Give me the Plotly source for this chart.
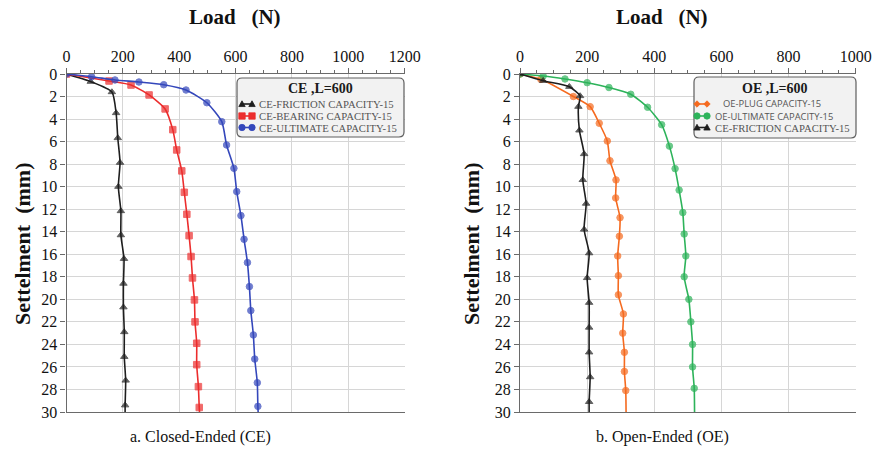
import plotly.graph_objects as go

# ---------- Closed-ended pile (CE), L = 600 ----------
ce_fric_settle = [0, 0.68, 1.6, 3.46, 5.68, 7.87, 10.0, 12.16, 14.3, 16.4, 18.6, 20.7, 22.9, 25.1, 27.2, 29.4, 30]
ce_fric_load = [0, 86, 161, 176, 182, 190, 184, 193, 193, 204, 202, 202, 205, 205, 210, 208, 208]

ce_bear_settle = [0, 0.62, 0.98, 1.86, 3.1, 4.94, 6.74, 8.6, 10.5, 12.45, 14.35, 16.2, 18.1, 20.05, 22.0, 23.9, 25.8, 27.75, 29.6, 30]
ce_bear_load = [0, 151, 229, 293, 350, 377, 391, 409, 418, 427, 435, 442, 447, 454, 456, 462, 462, 468, 471, 472]

ce_ult_settle = [0, 0.24, 0.53, 0.71, 0.95, 1.42, 2.55, 4.23, 6.3, 8.37, 10.44, 12.57, 14.67, 16.74, 18.87, 21.0, 23.16, 25.3, 27.4, 29.5, 30]
ce_ult_load = [0, 89, 172, 257, 345, 424, 498, 551, 568, 594, 604, 619, 630, 642, 649, 654, 663, 668, 677, 679, 680]

# ---------- Open-ended pile (OE), L = 600 ----------
oe_plug_settle = [0, 0.47, 2.0, 2.9, 4.37, 5.95, 7.7, 9.4, 11.0, 12.75, 14.4, 16.15, 17.9, 19.6, 21.3, 23.0, 24.7, 26.4, 28.1, 30]
oe_plug_load = [0, 62, 159, 209, 236, 260, 268, 286, 285, 298, 296, 291, 293, 293, 308, 306, 311, 311, 315, 316]

oe_ult_settle = [0, 0.18, 0.44, 0.77, 1.2, 1.8, 2.95, 4.5, 6.4, 8.4, 10.3, 12.3, 14.2, 16.15, 18.0, 20.0, 22.0, 24.0, 26.0, 27.9, 30]
oe_ult_load = [0, 69, 134, 200, 265, 330, 380, 422, 445, 462, 474, 485, 489, 494, 489, 503, 509, 514, 514, 519, 520]

oe_fric_settle = [0, 0.6, 1.13, 1.95, 2.9, 5.0, 7.1, 9.4, 11.5, 13.8, 15.9, 18.1, 20.3, 22.5, 24.7, 26.9, 29.1, 30]
oe_fric_load = [0, 69, 147, 179, 174, 177, 191, 187, 197, 191, 206, 200, 206, 206, 206, 209, 206, 206]

x_ticks_ce = [0, 200, 400, 600, 800, 1000, 1200]
x_ticks_oe = [0, 200, 400, 600, 800, 1000]
y_ticks = list(range(0, 31, 2))

SERIF = "Liberation Serif, Times New Roman, serif"
SANS = "Open Sans, DejaVu Sans, sans-serif"
BLACK = "#1e1e1e"
RED = "#ec2d2d"
BLUE = "#3447bb"
ORANGE = "#f56a1f"
GREEN = "#2db35a"

W, H = 880, 450


def px(x):
    return x / W


def py(y):
    return 1 - y / H


def sizes(n, s):
    # marker on every reading except the end of the curve at the base line
    return [s] * (n - 1) + [0]


def curve(load, settle, name, color, symbol, xa, ya, msize=6.5):
    return go.Scatter(
        x=load, y=settle, name=name, mode="lines+markers",
        xaxis=xa, yaxis=ya, showlegend=False,
        line=dict(color=color, width=1.6, shape="spline", smoothing=0.6),
        marker=dict(symbol=symbol, size=sizes(len(load), msize), color=color,
                    line=dict(color=color, width=1)),
    )


ce_series = [
    ("CE-FRICTION CAPACITY-15", BLACK, "triangle", SERIF),
    ("CE-BEARING CAPACITY-15", RED, "square", SERIF),
    ("CE-ULTIMATE CAPACITY-15", BLUE, "circle", SERIF),
]
oe_series = [
    ("OE-PLUG CAPACITY-15", ORANGE, "diamond", SANS),
    ("OE-ULTIMATE CAPACITY-15", GREEN, "circle", SANS),
    ("CE-FRICTION CAPACITY-15", BLACK, "triangle", SERIF),
]

fig = go.Figure()
fig.add_trace(curve(ce_fric_load, ce_fric_settle, ce_series[0][0], BLACK, "triangle-up", "x", "y"))
fig.add_trace(curve(ce_bear_load, ce_bear_settle, ce_series[1][0], RED, "square", "x", "y"))
fig.add_trace(curve(ce_ult_load, ce_ult_settle, ce_series[2][0], BLUE, "circle", "x", "y"))
fig.add_trace(curve(oe_plug_load, oe_plug_settle, oe_series[0][0], ORANGE, "circle-cross", "x2", "y2"))
fig.add_trace(curve(oe_ult_load, oe_ult_settle, oe_series[1][0], GREEN, "circle", "x2", "y2"))
fig.add_trace(curve(oe_fric_load, oe_fric_settle, oe_series[2][0], BLACK, "triangle-up", "x2", "y2"))

y_dom = [py(412), py(74)]

xcommon = dict(
    side="top", showgrid=True, gridcolor="#d6d6d6", gridwidth=1,
    showline=True, linecolor="#6a6a6a", linewidth=1.2, mirror=True,
    ticks="outside", ticklen=5, tickcolor="#6a6a6a",
    minor=dict(ticks="outside", ticklen=3, dtick=50, tickcolor="#6a6a6a", showgrid=False),
    tickfont=dict(family=SERIF, size=16, color="#111"), zeroline=False, automargin=False,
)
ycommon = dict(
    range=[30, 0], tickvals=y_ticks, showgrid=True, gridcolor="#d6d6d6", gridwidth=1,
    showline=True, linecolor="#6a6a6a", linewidth=1.2,
    ticks="outside", ticklen=5, tickcolor="#6a6a6a",
    tickfont=dict(family=SERIF, size=16, color="#111"), zeroline=False,
    domain=y_dom, automargin=False,
)

fig.update_layout(
    width=W, height=H, margin=dict(l=0, r=0, t=0, b=0, pad=0),
    paper_bgcolor="white", plot_bgcolor="white", showlegend=False,
    xaxis=dict(domain=[px(66.5), px(404.7)], range=[0, 1200], tickvals=x_ticks_ce, anchor="y", **xcommon),
    yaxis=dict(anchor="x", **ycommon),
    xaxis2=dict(domain=[px(520), px(855.7)], range=[0, 1000], tickvals=x_ticks_oe, anchor="y2", **xcommon),
    yaxis2=dict(anchor="x2", **ycommon),
)


# ---------- legend boxes drawn as shapes + text ----------
def rounded_box(x0, y0, x1, y1, r=5):
    X0, X1 = px(x0), px(x1)
    Y0, Y1 = py(y0), py(y1)
    rx, ry = r / W, r / H
    return (f"M{X0 + rx},{Y0} L{X1 - rx},{Y0} Q{X1},{Y0} {X1},{Y0 - ry} "
            f"L{X1},{Y1 + ry} Q{X1},{Y1} {X1 - rx},{Y1} L{X0 + rx},{Y1} "
            f"Q{X0},{Y1} {X0},{Y1 + ry} L{X0},{Y0 - ry} Q{X0},{Y0} {X0 + rx},{Y0} Z")


def marker_shape(cx, cy, kind, color, s=3.2):
    if kind == "circle":
        return dict(type="circle", xref="paper", yref="paper",
                    x0=px(cx - s), x1=px(cx + s), y0=py(cy + s), y1=py(cy - s),
                    fillcolor=color, line=dict(color=color, width=0.8))
    if kind == "square":
        return dict(type="rect", xref="paper", yref="paper",
                    x0=px(cx - s), x1=px(cx + s), y0=py(cy + s), y1=py(cy - s),
                    fillcolor=color, line=dict(color=color, width=0.8))
    if kind == "diamond":
        path = (f"M{px(cx)},{py(cy - s)} L{px(cx + s)},{py(cy)} "
                f"L{px(cx)},{py(cy + s)} L{px(cx - s)},{py(cy)} Z")
    else:  # triangle
        path = (f"M{px(cx)},{py(cy - s)} L{px(cx + s)},{py(cy + s * 0.8)} "
                f"L{px(cx - s)},{py(cy + s * 0.8)} Z")
    return dict(type="path", xref="paper", yref="paper", path=path,
                fillcolor=color, line=dict(color=color, width=0.8))


def draw_legend(box, title, title_x, entries, sym_x, text_x, rows):
    x0, y0, x1, y1 = box
    fig.add_shape(type="path", xref="paper", yref="paper", path=rounded_box(x0, y0, x1, y1),
                  fillcolor="#f2f2f2", line=dict(color="#5e5e5e", width=1.2), layer="above")
    fig.add_annotation(xref="paper", yref="paper", x=px(title_x), y=py(88), showarrow=False,
                       xanchor="center", yanchor="middle", text=f"<b>{title}</b>",
                       font=dict(family=SERIF, size=14, color="#1a1a1a"))
    for (name, color, kind, fam), yy, tx in zip(entries, rows, text_x):
        a, b = sym_x
        fig.add_shape(type="line", xref="paper", yref="paper", x0=px(a), x1=px(b),
                      y0=py(yy), y1=py(yy), line=dict(color=color, width=1.6), layer="above")
        fig.add_shape(layer="above", **marker_shape(a, yy, kind, color))
        fig.add_shape(layer="above", **marker_shape(b, yy, kind, color))
        fig.add_annotation(xref="paper", yref="paper", x=px(tx), y=py(yy), showarrow=False,
                           xanchor="left", yanchor="middle", text=name,
                           font=dict(family=fam, size=10.7 if fam == SERIF else 9.4, color="#555"))


draw_legend((237, 78, 404, 137), "CE ,L=600", 320, ce_series, (242, 252), [257, 257, 257], [104, 116, 127.5])
draw_legend((694, 77, 856, 138), "OE ,L=600", 775, oe_series, (697, 707), [721, 713, 713], [104, 116, 127.5])

# ---------- titles and captions ----------
title_font = dict(family=SERIF, size=21, color="#111")
ytitle_font = dict(family=SERIF, size=22, color="#111")
NB = "\u00a0"
notes = [
    dict(text=f"<b>Load{NB*3}(N)</b>", x=px(235), y=py(17), font=title_font),
    dict(text=f"<b>Load{NB*3}(N)</b>", x=px(662), y=py(17), font=title_font),
    dict(text=f"<b>Settelment{NB*2}(mm)</b>", x=px(22), y=py(244), textangle=-90, font=ytitle_font),
    dict(text=f"<b>Settelment{NB*2}(mm)</b>", x=px(471), y=py(244), textangle=-90, font=ytitle_font),
    dict(text="a. Closed-Ended (CE)", x=px(200), y=py(437), font=dict(family=SERIF, size=16, color="#111")),
    dict(text="b. Open-Ended (OE)", x=px(662), y=py(437), font=dict(family=SERIF, size=16, color="#111")),
]
for n in notes:
    fig.add_annotation(xref="paper", yref="paper", showarrow=False,
                       xanchor="center", yanchor="middle", **n)

fig.write_html("out.html")
